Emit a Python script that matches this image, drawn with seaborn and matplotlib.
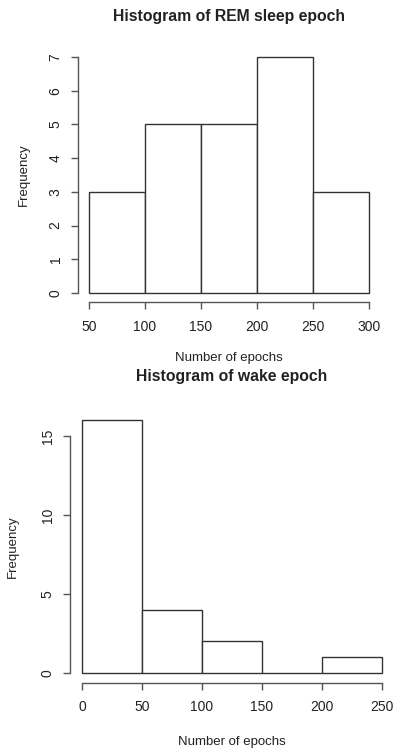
import matplotlib
matplotlib.use("Agg")
import matplotlib.pyplot as plt
import seaborn as sns
import numpy as np

# ---- data ----
rem_edges = [50, 100, 150, 200, 250, 300]
rem_counts = [3, 5, 5, 7, 3]
rem_yticks = [0, 1, 2, 3, 4, 5, 6, 7]

wake_edges = [0, 50, 100, 150, 200, 250]
wake_counts = [16, 4, 2, 0, 1]
wake_yticks = [0, 5, 10, 15]

titles = ["Histogram of REM sleep epoch", "Histogram of wake epoch"]
xlabel = "Number of epochs"
ylabel = "Frequency"

sns.set_style("white")
plt.rcParams['font.family'] = ['Liberation Sans', 'DejaVu Sans']

W, H = 393, 752
fig = plt.figure(figsize=(W / 100, H / 100), dpi=100)

TXT = "#222222"
AX = "#555555"
EDGE = "#333333"


def fx(px):
    return px / W


def fy(py):
    return 1 - py / H


def panel(rect_px, edges, counts, yticks, title, title_y, xlab_y, ylab_x):
    l, t, r, b = rect_px
    ax = fig.add_axes([fx(l), fy(b), fx(r - l), (b - t) / H])
    centers = [(edges[i] + edges[i + 1]) / 2 for i in range(len(counts))]
    sns.histplot(x=centers, weights=counts, bins=edges, ax=ax,
                 color="white", edgecolor=EDGE, linewidth=1.0, alpha=1)
    xr = edges[-1] - edges[0]
    ax.set_xlim(edges[0] - 0.04 * xr, edges[-1] + 0.04 * xr)
    ymax = max(counts)
    ax.set_ylim(-0.04 * ymax, ymax * 1.04)
    ax.set_xticks(edges)
    ax.set_yticks(yticks)
    ax.set_xticklabels([str(e) for e in edges])
    ax.set_yticklabels([str(v) for v in yticks], rotation=90, va="center")
    for s in ["top", "right"]:
        ax.spines[s].set_visible(False)
    ax.spines["left"].set_bounds(yticks[0], yticks[-1])
    ax.spines["bottom"].set_bounds(edges[0], edges[-1])
    for s in ["left", "bottom"]:
        ax.spines[s].set_color(AX)
        ax.spines[s].set_linewidth(1.0)
    ax.tick_params(axis="both", direction="out", length=5, width=1.0,
                   color=AX, labelcolor=TXT, labelsize=10,
                   bottom=True, left=True)
    ax.tick_params(axis="x", pad=7.5)
    ax.tick_params(axis="y", pad=6)
    ax.set_xlabel("")
    ax.set_ylabel("")
    ax.patch.set_alpha(0)
    cx = (l + r) / 2
    fig.text(fx(cx), fy(title_y), title, ha="center", va="center",
             fontsize=11.3, fontweight="bold", color=TXT)
    fig.text(fx(cx), fy(xlab_y), xlabel, ha="center", va="center",
             fontsize=9.5, color=TXT)
    fig.text(fx(ylab_x), fy((t + b) / 2), ylabel, ha="center", va="center",
             rotation=90, fontsize=9.5, color=TXT)
    return ax


panel((77.8, 47.6, 380.2, 302.4), rem_edges, rem_counts, rem_yticks,
      titles[0], 17, 358, 24)
panel((70, 410.1, 394, 683.1), wake_edges, wake_counts, wake_yticks,
      titles[1], 377, 742, 13)

fig.savefig("out.png", dpi=100, facecolor="white")
